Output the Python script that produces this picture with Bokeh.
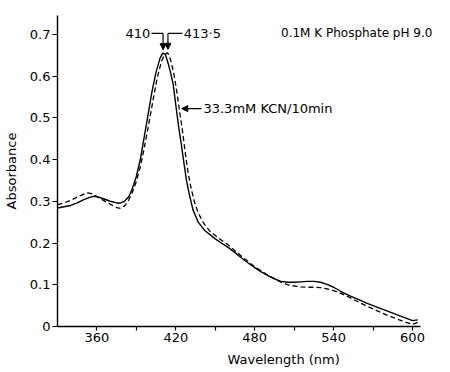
from bokeh.plotting import figure
from bokeh.models import FixedTicker, Label, Arrow, NormalHead, Title
from bokeh.embed import file_html
from bokeh.resources import INLINE

# Native enzyme (solid)
wl_native = [330, 335, 340, 345, 350, 355, 358, 360, 365, 370, 375, 378, 381, 384, 386, 388,
             390, 393, 396, 399, 402, 405, 408, 410, 412, 414, 416, 418, 420, 422, 424, 426,
             428, 430, 433, 437, 442, 450, 455, 460, 465, 470, 475, 480, 485, 490, 495, 500,
             505, 510, 515, 520, 525, 530, 535, 540, 545, 550, 555, 560, 565, 570, 575, 580,
             585, 590, 595, 600, 604]
abs_native = [0.284, 0.287, 0.290, 0.296, 0.304, 0.310, 0.312, 0.311, 0.306, 0.300, 0.296, 0.296,
              0.300, 0.310, 0.323, 0.340, 0.360, 0.400, 0.455, 0.510, 0.565, 0.610, 0.643, 0.655,
              0.652, 0.632, 0.608, 0.580, 0.530, 0.482, 0.440, 0.395, 0.352, 0.320, 0.280, 0.250,
              0.230, 0.210, 0.199, 0.189, 0.177, 0.164, 0.152, 0.141, 0.131, 0.122, 0.114, 0.108,
              0.106, 0.106, 0.107, 0.108, 0.108, 0.106, 0.101, 0.094, 0.085, 0.077, 0.070, 0.063,
              0.056, 0.050, 0.044, 0.038, 0.032, 0.026, 0.020, 0.014, 0.016]

# 33.3 mM KCN / 10 min (dashed)
wl_kcn = [330, 335, 340, 345, 350, 353, 356, 360, 365, 370, 375, 378, 381, 384, 387, 390,
          393, 396, 399, 403, 406, 409, 411, 413.5, 415, 417, 419, 421, 423, 425, 427, 429,
          431, 434, 437, 441, 446, 452, 460, 470, 480, 490, 500, 505, 510, 515, 520, 525,
          530, 535, 540, 545, 550, 555, 560, 565, 570, 575, 580, 585, 590, 595, 600, 604]
abs_kcn = [0.292, 0.296, 0.302, 0.310, 0.317, 0.320, 0.318, 0.311, 0.302, 0.293, 0.285, 0.283,
           0.289, 0.302, 0.322, 0.348, 0.383, 0.428, 0.478, 0.548, 0.598, 0.634, 0.649, 0.656,
           0.650, 0.627, 0.597, 0.557, 0.512, 0.470, 0.420, 0.375, 0.340, 0.300, 0.272, 0.248,
           0.228, 0.213, 0.195, 0.168, 0.143, 0.123, 0.106, 0.100, 0.097, 0.095, 0.094, 0.094,
           0.093, 0.090, 0.086, 0.080, 0.073, 0.065, 0.057, 0.049, 0.042, 0.035, 0.028, 0.022,
           0.016, 0.010, 0.005, 0.010]

x_ticks = [360, 420, 480, 540, 600]
x_minor = [390, 450, 510, 570]
y_ticks = [0, 0.1, 0.2, 0.3, 0.4, 0.5, 0.6, 0.7]
y_tick_labels = ["0", "0.1", "0.2", "0.3", "0.4", "0.5", "0.6", "0.7"]

peak_native = (410, 0.655)
peak_kcn = (413.5, 0.656)
kcn_point = (424.5, 0.522)

label_native = "410"
label_kcn_peak = "413·5"
label_kcn = "33.3mM KCN/10min"
label_buffer = "0.1M K Phosphate pH 9.0"
x_title = "Wavelength (nm)"
y_title = "Absorbance"

FONT = "DejaVu Sans"

p = figure(width=450, height=372, x_range=(330, 628.9), y_range=(0, 0.745),
           output_backend="svg", toolbar_location=None,
           min_border_left=55, min_border_right=0, min_border_top=15, min_border_bottom=46)
p.outline_line_color = None
p.xgrid.visible = False
p.ygrid.visible = False
p.background_fill_color = "white"
p.border_fill_color = "white"

p.line(wl_native, abs_native, line_color="black", line_width=1.4)
p.line(wl_kcn, abs_kcn, line_color="black", line_width=1.3, line_dash="5 3")

for ax in (p.xaxis[0], p.yaxis[0]):
    ax.axis_line_color = "black"
    ax.axis_line_width = 1.4
    ax.major_tick_line_color = "black"
    ax.major_tick_line_width = 1.2
    ax.major_tick_in = 0
    ax.major_label_text_font = FONT
    ax.major_label_text_font_size = "13px"
    ax.major_label_text_color = "black"

xa = p.xaxis[0]
xa.bounds = (330, 606)
xa.ticker = FixedTicker(ticks=x_ticks, minor_ticks=x_minor)
xa.major_tick_out = 4
xa.minor_tick_out = 4
xa.minor_tick_in = 0
xa.minor_tick_line_color = "black"
xa.minor_tick_line_width = 1.2
xa.major_label_standoff = 2

ya = p.yaxis[0]
ya.ticker = FixedTicker(ticks=y_ticks)
ya.major_label_overrides = {t: s for t, s in zip(y_ticks, y_tick_labels)}
ya.major_tick_out = 5
ya.minor_tick_line_color = None
ya.major_label_standoff = 2
ya.axis_label = y_title
ya.axis_label_text_font = FONT
ya.axis_label_text_font_size = "13px"
ya.axis_label_text_font_style = "normal"
ya.axis_label_text_color = "black"
ya.axis_label_standoff = 8

# x title below the axis, offset to match the reference position
p.add_layout(Title(text=x_title, align="left", offset=170, standoff=11, vertical_align="bottom",
                   text_font=FONT, text_font_size="13px", text_font_style="normal",
                   text_color="black"), "below")

# peak annotations
ytxt = 0.702
p.add_layout(Label(x=400.5, y=ytxt, text=label_native, text_align="right", text_baseline="middle",
                   text_font=FONT, text_font_size="13px", text_color="black"))
p.add_layout(Label(x=426.0, y=ytxt, text=label_kcn_peak, text_align="left", text_baseline="middle",
                   text_font=FONT, text_font_size="13px", text_color="black"))
p.segment(x0=[401.5, 425.0], y0=[ytxt, ytxt], x1=[peak_native[0] + 0.3, peak_kcn[0] + 0.5],
          y1=[ytxt, ytxt], line_color="black", line_width=1.2)
p.add_layout(Arrow(end=NormalHead(size=6, fill_color="black", line_color="black"),
                   x_start=peak_native[0] + 0.3, y_start=ytxt, x_end=peak_native[0] + 0.3, y_end=peak_native[1] + 0.008,
                   line_color="black", line_width=1.2))
p.add_layout(Arrow(end=NormalHead(size=6, fill_color="black", line_color="black"),
                   x_start=peak_kcn[0] + 0.5, y_start=ytxt, x_end=peak_kcn[0] + 0.5, y_end=peak_kcn[1] + 0.008,
                   line_color="black", line_width=1.2))

# KCN label arrow
p.add_layout(Arrow(end=NormalHead(size=6, fill_color="black", line_color="black"),
                   x_start=kcn_point[0] + 15, y_start=kcn_point[1], x_end=kcn_point[0], y_end=kcn_point[1],
                   line_color="black", line_width=1.2))
p.add_layout(Label(x=kcn_point[0] + 16.5, y=kcn_point[1], text=label_kcn, text_align="left", text_baseline="middle",
                   text_font=FONT, text_font_size="13px", text_color="black"))

p.add_layout(Label(x=500, y=ytxt, text=label_buffer, text_align="left", text_baseline="middle",
                   text_font=FONT, text_font_size="12px", text_color="black"))

open("out.html", "w").write(file_html(p, INLINE))
